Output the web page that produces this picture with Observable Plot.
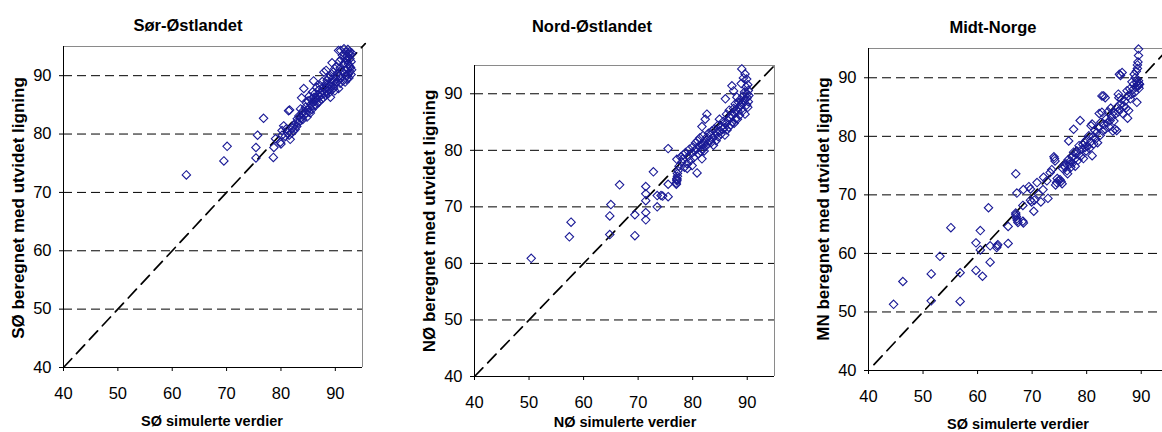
<!DOCTYPE html>
<html><head><meta charset="utf-8">
<script src="https://cdn.jsdelivr.net/npm/d3@7"></script>
<script src="https://cdn.jsdelivr.net/npm/@observablehq/plot@0.6"></script>
<style>
html,body{margin:0;padding:0;background:#fff;}
#wrap{position:relative;width:1162px;height:432px;overflow:hidden;font-family:"Liberation Sans",Arial,sans-serif;color:#000;}
.p{position:absolute;top:0;}
.t{position:absolute;font-weight:bold;white-space:nowrap;transform:translate(-50%,-50%);line-height:1.15;}
.yl{transform:translate(-50%,-50%) rotate(-90deg);}
</style></head><body><div id="wrap"></div>
<script>
// ---------- data ----------
const tickValues = [40, 50, 60, 70, 80, 90];
const gridValues = [50, 60, 70, 80, 90];
const titles = ["Sør-Østlandet", "Nord-Østlandet", "Midt-Norge"];
const xLabels = ["SØ simulerte verdier", "NØ simulerte verdier", "SØ simulerte verdier"];
const yLabels = ["SØ beregnet med utvidet ligning", "NØ beregnet med utvidet ligning", "MN beregnet med utvidet ligning"];
const diagonalSO = [40, 95.5];
const diagonalNO = [40, 95.5];
const diagonalMN = [41, 95.5];

// [simulert, beregnet]
const soPoints = [
[62.6,73.0],[69.5,75.4],[70.1,77.9],[75.4,75.9],[75.4,77.7],[75.7,79.8],[76.8,82.7],[78.6,76.0],[78.7,77.7],
[79.0,79.2],[79.9,78.6],[80.0,78.3],[80.2,79.8],[80.2,80.6],[80.5,81.4],[80.8,79.6],[81.0,80.9],[81.2,80.2],
[81.4,84.0],[81.5,79.8],[81.6,84.1],[81.7,79.1],[82.3,80.5],
[82.0,80.2],[82.1,81.0],[82.4,81.5],[82.6,80.8],[82.8,82.0],[82.9,81.3],
[83.0,82.6],[83.2,81.9],[83.3,83.1],[83.5,82.3],[83.6,84.3],[83.7,82.8],[83.8,86.2],[83.9,83.5],
[84.0,82.5],[84.1,84.0],[84.2,87.8],[84.3,83.2],[84.5,84.6],[84.6,83.6],[84.7,85.3],[84.8,82.9],[84.9,84.2],
[85.0,85.7],[85.1,83.8],[85.2,86.5],[85.3,84.5],[85.4,83.6],[85.5,85.1],[85.6,86.0],[85.7,84.2],[85.8,87.2],[85.9,85.4],
[86.0,89.1],[86.0,84.8],[86.1,86.3],[86.2,85.6],[86.3,87.0],[86.4,84.9],[86.5,86.1],[86.6,88.0],[86.7,85.3],[86.8,86.7],[86.9,87.5],
[87.0,85.5],[87.1,86.4],[87.2,88.3],[87.3,87.0],[87.4,85.9],[87.5,86.8],[87.6,89.0],[87.7,87.4],[87.8,86.2],[87.9,88.1],[87.9,90.6],
[88.0,87.0],[88.1,87.8],[88.2,86.6],[88.3,90.9],[88.3,88.6],[88.4,87.3],[88.5,89.2],[88.6,88.0],[88.7,86.9],[88.8,89.6],[88.9,87.6],
[89.0,88.4],[89.1,86.3],[89.1,90.0],[89.2,88.9],[89.3,87.5],[89.4,92.2],[89.4,89.4],[89.5,88.2],[89.6,90.6],[89.7,87.9],[89.8,89.0],[89.9,87.4],[89.9,91.2],
[90.0,88.6],[90.1,89.8],[90.2,91.6],[90.3,88.9],[90.4,90.4],[90.5,89.2],[90.6,94.3],[90.6,87.8],[90.7,92.4],[90.8,90.0],[90.9,88.7],[90.9,91.3],
[91.0,94.3],[91.0,89.6],[91.1,92.8],[91.2,90.8],[91.3,93.5],[91.4,89.1],[91.5,91.9],[91.6,94.6],[91.6,90.3],[91.7,92.2],[91.8,88.9],[91.9,93.1],[91.9,91.0],
[92.0,94.0],[92.0,89.9],[92.1,89.4],[92.1,92.6],[92.2,90.0],[92.2,93.4],[92.3,91.2],[92.3,94.5],[92.4,90.3],[92.4,92.0],[92.5,93.8],[92.5,89.6],
[92.6,91.6],[92.6,94.1],[92.7,90.7],[92.7,92.9],[92.8,93.6],[92.8,91.4],[92.9,90.2],[92.9,92.4],[93.0,93.9],[93.0,91.0]
];

const noPoints = [
[50.4,60.9],[57.4,64.7],[57.7,67.3],[64.8,65.1],[64.8,68.4],[65.0,70.4],[66.6,73.9],[69.4,68.6],[69.4,64.9],
[71.4,73.6],[71.4,72.3],[71.4,71.1],[71.4,69.0],[71.4,67.7],[72.8,76.2],[73.5,72.0],[73.5,70.0],[74.2,72.0],[74.5,71.9],
[75.5,74.0],[75.5,71.8],[75.5,80.3],
[77.0,74.0],[77.0,74.2],[77.1,74.6],[77.1,74.8],[77.1,75.0],[77.2,75.4],[77.2,75.9],[77.3,76.4],
[77.1,78.4],[78.3,79.2],[79.0,77.6],[79.0,76.8],[79.9,77.3],[80.8,76.0],[81.7,78.5],[82.3,85.5],[82.6,86.4],[81.7,84.2],
[77.5,77.2],[77.8,78.8],[78.0,77.9],[78.2,78.5],[78.5,77.0],[78.7,79.6],[79.2,78.9],[79.4,80.2],[79.6,78.2],[79.8,79.5],[80.0,80.6],[80.2,78.7],
[80.4,79.9],[80.5,81.3],[80.7,80.3],[80.9,81.7],[81.0,79.4],[81.2,80.8],[81.3,82.2],[81.5,79.8],[81.6,81.1],[81.8,80.3],[81.9,82.6],[82.0,81.0],[82.1,79.9],[82.3,81.6],[82.4,80.7],
[82.6,82.3],[82.8,81.2],[82.9,83.0],[83.1,81.8],[83.2,82.7],[83.4,81.4],[83.5,83.4],[83.7,82.2],[83.8,80.9],[84.0,83.8],[84.1,82.6],[84.3,81.7],[84.4,83.2],[84.6,84.4],[84.7,82.4],[84.9,85.5],[85.0,83.5],
[85.2,82.9],[85.3,84.2],[85.5,83.7],[85.6,85.1],[85.8,84.0],[85.9,82.7],[86.0,89.1],[86.1,84.7],[86.2,86.4],[86.3,83.6],[86.5,85.3],[86.6,84.1],[86.7,87.1],[86.8,85.8],[87.0,84.5],[87.1,86.2],[87.2,91.4],[87.3,85.0],[87.5,90.5],[87.5,87.4],[87.6,84.8],
[87.7,86.6],[87.8,88.2],[87.9,85.6],[88.0,87.2],[88.1,89.4],[88.2,85.5],[88.3,86.9],[88.4,88.5],[88.5,87.6],[88.6,86.2],[88.7,89.0],[88.8,87.9],[88.9,91.8],[89.0,94.4],[89.0,88.3],[89.1,86.9],[89.2,89.6],[89.3,92.8],[89.4,88.8],[89.5,90.3],[89.6,93.5],[89.6,86.4],[89.7,89.1],[89.8,91.2],[89.9,92.6],[89.9,88.0],[90.0,90.0],[90.0,89.3],[90.1,87.6],[90.1,91.6],[90.2,88.6],[90.2,90.6],[90.3,89.7]
];

const mnPoints = [
[44.6,51.3],[46.3,55.2],[51.5,56.5],[51.5,51.9],[53.1,59.5],[55.1,64.4],[56.8,56.7],[56.8,51.8],[59.7,61.8],[59.7,57.1],
[60.5,63.9],[60.5,60.6],[60.9,56.1],[62.0,67.8],[62.3,61.3],[62.3,58.5],[63.5,61.0],[63.6,61.3],[63.7,61.5],[65.6,64.6],[65.6,61.7],
[67.0,73.6],[67.2,70.3],[67.0,66.9],[67.1,66.3],[67.2,65.9],[67.3,65.6],[67.4,65.3],[67.0,66.6],[68.3,65.5],[68.4,65.2],
[68.3,68.2],[68.4,70.9],[69.4,71.4],[69.7,71.0],[69.7,69.1],[69.9,68.8],[70.3,67.2],[70.4,69.1],[70.9,72.1],[71.2,70.1],[71.6,68.8],[72.0,70.9],[72.1,73.0],[72.9,69.4],
[72.7,72.4],[73.3,73.8],[73.6,74.3],[74.1,76.2],[74.2,75.8],[74.0,76.5],
[74.3,71.7],[74.5,72.1],[74.8,72.4],[75.1,72.6],[75.3,72.3],[75.5,71.9],[74.6,72.8],[75.6,74.5],[75.8,75.0],[76.0,74.8],
[76.2,75.3],[76.4,74.1],[76.5,73.6],[76.6,76.0],[76.8,75.2],[76.7,79.2],[77.0,75.8],[77.1,74.7],[77.3,76.5],[77.4,75.4],[77.6,81.2],[77.6,77.3],[77.8,76.1],[77.9,74.9],[78.1,77.0],[78.2,77.5],[78.4,75.9],[78.6,78.4],[78.8,82.7],[78.9,76.6],[79.1,77.8],[79.3,78.6],[79.4,76.2],[79.6,79.0],[79.7,78.1],[79.9,77.5],
[80.0,79.4],[80.2,78.3],[80.4,80.1],[80.5,77.9],[80.7,79.0],[80.8,81.8],[81.0,76.7],[81.0,82.1],[81.2,80.0],[81.3,78.7],[81.5,81.0],[81.6,79.5],[81.8,80.6],[82.0,78.9],[82.2,81.5],[82.3,83.9],[82.5,80.2],[82.6,82.4],[82.8,84.1],[82.8,86.9],[82.9,80.9],[83.1,86.9],[83.2,82.0],[83.4,86.6],[83.4,81.2],[83.6,83.0],[83.8,82.3],[83.9,84.2],
[84.1,81.6],[84.3,82.7],[84.4,84.8],[84.6,83.3],[84.8,80.9],[84.9,84.1],[85.0,82.6],[85.2,81.2],[85.3,83.8],[85.5,81.0],[85.6,85.0],[85.8,87.2],[85.8,84.2],[85.9,86.6],[86.0,90.6],[86.1,84.6],[86.2,85.5],[86.2,90.4],[86.4,86.3],[86.5,90.9],[86.6,83.9],[86.8,85.2],[87.0,86.0],[87.2,84.8],[87.4,87.8],[87.5,83.1],[87.6,86.9],[87.7,84.4],[87.9,88.1],[88.0,86.4],
[88.2,87.2],[88.3,89.3],[88.5,88.0],[88.6,88.9],[88.7,90.6],[88.8,87.5],[88.9,90.0],[89.0,88.4],[89.1,91.1],[89.2,85.8],[89.2,89.2],[89.3,91.6],[89.3,92.2],[89.4,88.7],[89.4,92.7],[89.5,89.5],[89.5,88.6],[89.5,93.8],[89.5,94.9],[89.6,88.2],[89.6,89.0],[89.7,88.9]
];

// ---------- drawing ----------
const wrap = document.getElementById("wrap");
const FONT = "'Liberation Sans', Arial, sans-serif";

function panel(points, diag, left, width, mL, mR, mT, mB) {
  const svg = Plot.plot({
    width, height: 432,
    marginLeft: mL, marginRight: mR, marginTop: mT, marginBottom: mB,
    style: {fontFamily: FONT, fontSize: "16.5px", color: "#000", background: "transparent", overflow: "visible"},
    x: {domain: [40, 95], label: null},
    y: {domain: [40, 95], label: null},
    marks: [
      Plot.ruleY(gridValues, {stroke: "#000", strokeWidth: 1, strokeDasharray: "9,5"}),
      Plot.ruleY([95], {stroke: "#8a8a8a"}),
      Plot.ruleX([95], {stroke: "#8a8a8a"}),
      Plot.line(diag, {x: d => d, y: d => d, stroke: "#000", strokeWidth: 1.7, strokeDasharray: "12,7"}),
      Plot.dot(points, {x: d => d[0], y: d => d[1], symbol: "diamond2", r: 3.8, stroke: "#1a1a96", strokeWidth: 1.1, fill: "none"}),
      Plot.ruleX([40], {stroke: "#000"}),
      Plot.ruleY([40], {stroke: "#000"}),
      Plot.axisX({ticks: tickValues, tickSize: 4, tickPadding: 16, fontSize: 16.5, label: null}),
      Plot.axisY({ticks: tickValues, tickSize: 4, tickPadding: 8, fontSize: 16.5, label: null})
    ]
  });
  svg.classList.add("p");
  svg.style.left = left + "px";
  wrap.appendChild(svg);
}

function label(text, x, y, size, rotate) {
  const d = document.createElement("div");
  d.className = "t" + (rotate ? " yl" : "");
  d.textContent = text;
  d.style.left = x + "px";
  d.style.top = y + "px";
  d.style.fontSize = size + "px";
  wrap.appendChild(d);
}

panel(soPoints, diagonalSO, 0, 380, 63, 18, 46, 65);
panel(noPoints, diagonalNO, 390, 390, 84, 6, 65, 56);
panel(mnPoints, diagonalMN, 780, 400, 88, 12, 48, 62);

label(titles[0], 188, 25, 16.5);
label(titles[1], 592, 25.5, 16.5);
label(titles[2], 993, 26.5, 16.5);
label(xLabels[0], 212, 421, 14.5);
label(xLabels[1], 625, 422, 14.5);
label(xLabels[2], 1018, 424, 14.5);
label(yLabels[0], 18.5, 207.5, 17, true);
label(yLabels[1], 430, 220.5, 17, true);
label(yLabels[2], 824, 209, 17, true);
</script></body></html>
